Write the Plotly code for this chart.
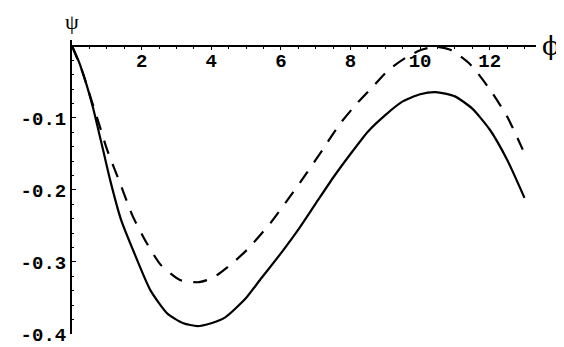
import plotly.graph_objects as go

# values
phi_solid = [0, 0.2, 0.4, 0.6, 0.9, 1.1, 1.4, 1.75, 2.25, 2.75, 3.2, 3.6, 4.0,
             4.4, 5.0, 5.4, 6.0, 6.5, 7.0, 7.5, 8.0, 8.5, 9.0, 9.5, 10.0,
             10.45, 11.0, 11.5, 12.0, 12.5, 13.0]
psi_solid = [0, -0.022, -0.051, -0.085, -0.146, -0.187, -0.240, -0.283, -0.339,
             -0.372, -0.385, -0.389, -0.385, -0.377, -0.350, -0.325, -0.288,
             -0.255, -0.219, -0.183, -0.150, -0.119, -0.096, -0.077, -0.067,
             -0.064, -0.070, -0.087, -0.116, -0.158, -0.211]

phi_dash = [0, 0.3, 0.55, 0.8, 1.0, 1.4, 1.75, 2.15, 2.55, 3.1, 3.65, 4.05,
            4.6, 5.05, 5.7, 6.25, 6.75, 7.2, 7.7, 8.2, 8.65, 9.1, 9.6, 10.0,
            10.45, 10.9, 11.45, 12.0, 12.5, 12.95]
psi_dash = [0, -0.036, -0.074, -0.112, -0.143, -0.193, -0.237, -0.274, -0.304,
            -0.325, -0.328, -0.322, -0.302, -0.282, -0.246, -0.210, -0.176,
            -0.144, -0.108, -0.079, -0.056, -0.033, -0.016, -0.006, -0.001,
            -0.006, -0.026, -0.060, -0.098, -0.144]

x_ticks = [2, 4, 6, 8, 10, 12]
y_ticks = [-0.1, -0.2, -0.3, -0.4]
y_tick_text = ["-0.1", "-0.2", "-0.3", "-0.4"]

X_MAX = 13.33
Y_MIN, Y_MAX = -0.4, 0.0083

# page body has an 8px margin, so the figure is 8px smaller each way
tick_font = dict(family="Liberation Mono", size=19, color="black", weight="bold")

fig = go.Figure()
fig.add_trace(go.Scatter(
    x=phi_solid, y=psi_solid, mode="lines",
    line=dict(color="black", width=2.2, shape="spline", smoothing=0.6),
))
fig.add_trace(go.Scatter(
    x=phi_dash, y=psi_dash, mode="lines",
    line=dict(color="black", width=2.2, dash="14px,11px", shape="spline", smoothing=0.6),
))

fig.update_layout(
    width=556, height=339,
    margin=dict(l=64, r=28, t=32, b=13, autoexpand=False),
    paper_bgcolor="white", plot_bgcolor="white",
    showlegend=False,
    xaxis=dict(
        range=[0, X_MAX], anchor="free",
        position=(0 - Y_MIN) / (Y_MAX - Y_MIN),
        automargin=False,
        showgrid=False, zeroline=False,
        showline=True, linecolor="black", linewidth=2,
        tickvals=x_ticks, ticks="outside", ticklen=3, tickcolor="black",
        tickfont=tick_font, ticklabeloverflow="allow", ticklabelstandoff=-6,
        minor=dict(dtick=0.5, ticks="outside", ticklen=2, tickcolor="black"),
    ),
    yaxis=dict(
        range=[Y_MIN, Y_MAX],
        automargin=False,
        showgrid=False, zeroline=False,
        showline=True, linecolor="black", linewidth=2,
        tickvals=y_ticks, ticktext=y_tick_text,
        ticks="inside", ticklen=4, tickcolor="black",
        tickfont=tick_font, ticklabeloverflow="allow",
        minor=dict(dtick=0.02, ticks="inside", ticklen=2, tickcolor="black"),
    ),
)

fig.add_annotation(text="ψ", x=0, y=Y_MAX, xref="x", yref="y", yanchor="bottom",
                   yshift=4, showarrow=False,
                   font=dict(family="Liberation Serif", size=22, color="black"))
fig.add_annotation(text="ϕ", x=X_MAX, y=0, xref="x", yref="y", xanchor="center",
                   xshift=15, showarrow=False,
                   font=dict(family="DejaVu Serif", size=26, color="black"))

fig.write_html("out.html")
